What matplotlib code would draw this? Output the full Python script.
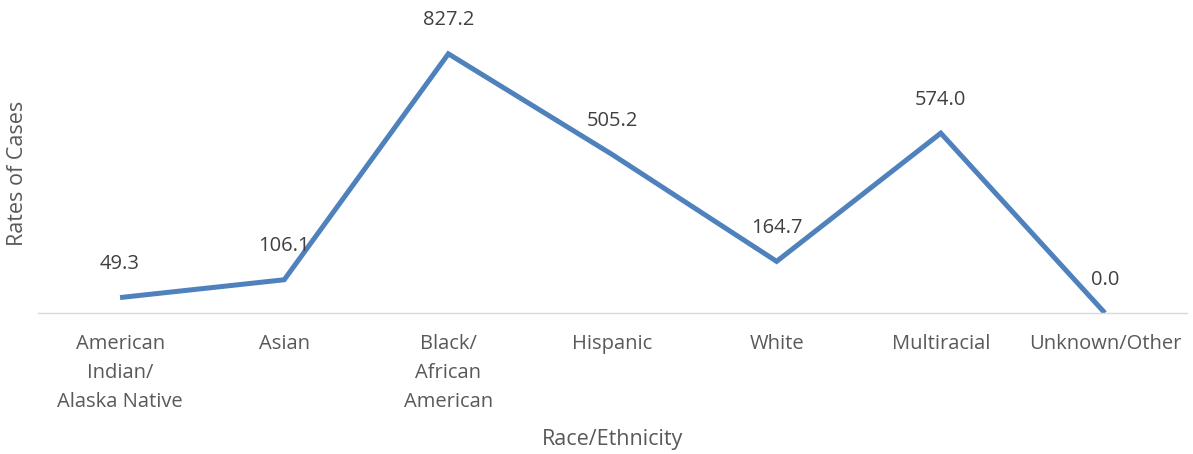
import matplotlib
matplotlib.use("Agg")
import matplotlib.pyplot as plt

categories = ["American\nIndian/\nAlaska Native", "Asian", "Black/\nAfrican\nAmerican",
              "Hispanic", "White", "Multiracial", "Unknown/Other"]
rates = [49.3, 106.1, 827.2, 505.2, 164.7, 574.0, 0.0]

plt.rcParams['font.family'] = ['Open Sans', 'DejaVu Sans']

fig = plt.figure(figsize=(11.93, 4.54), dpi=100)
ax = fig.add_axes([38/1193, 1-313/454, (1187-38)/1193, (313-31)/454])

x = list(range(len(categories)))
ax.plot(x, rates, color="#4F81BD", linewidth=3.6, solid_capstyle="butt", solid_joinstyle="miter")
for xi, v in zip(x, rates):
    ax.annotate(f"{v:.1f}", (xi, v), xytext=(0, 24), textcoords="offset points",
                ha="center", va="center", fontsize=14.5, color="#404040")

ax.set_xlim(-0.5, len(categories) - 0.5)
ax.set_ylim(0, 900)
ax.set_xticks(x)
ax.set_xticklabels(categories, fontsize=14.5, color="#595959", linespacing=1.6, va="top")
ax.tick_params(axis="x", length=0, pad=15)
ax.set_yticks([])
for s in ["top", "right", "left"]:
    ax.spines[s].set_visible(False)
ax.spines["bottom"].set_color("#D9D9D9")
ax.spines["bottom"].set_linewidth(1)

fig.text(612/1193, 1-440/454, "Race/Ethnicity", ha="center", va="center", fontsize=15.5, color="#595959")
fig.text(18/1193, 1-173/454, "Rates of Cases", ha="center", va="center", rotation=90, fontsize=15.5, color="#595959")

fig.savefig("out.png", dpi=100)
